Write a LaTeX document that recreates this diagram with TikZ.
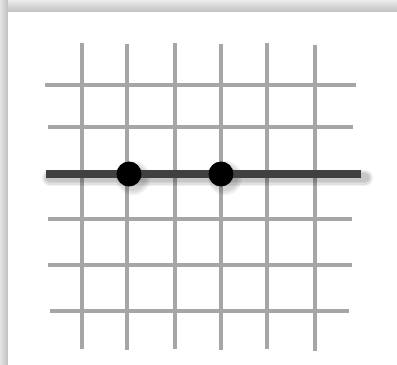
\documentclass[tikz,border=0pt]{standalone}
\usepackage{xcolor}
\usepackage{tikz}
\usetikzlibrary{positioning}

\definecolor{gridgray}{HTML}{A6A6A6}
\definecolor{linedark}{HTML}{404040}

\begin{document}
\begin{tikzpicture}[
    x=0.02cm, y=-0.02cm,
    gridline/.style={draw=gridgray, line width=0.07cm},
    mainline/.style={draw=linedark, line width=0.17cm},
    softshade/.style={black, opacity=0.06},
    dot/.style={circle, fill=black, inner sep=0pt, minimum size=0.5cm}
]
\useasboundingbox (0,0) rectangle (397,365);
% page frame
\shade[top color=gray!15, bottom color=gray!50] (0,0) rectangle (397,12);
\shade[left color=gray!20, right color=gray!50] (0,0) rectangle (8,365);
\fill[white] (8,12) rectangle (397,365);

% grid
\foreach \x/\top/\bot in {82/43/349, 127/44/350, 175/43/349, 221/44/350, 267/43/349, 315/45/351}
    \draw[gridline] (\x,\top) -- (\x,\bot);
\foreach \y/\left/\right in {85/45/356, 127/48/353, 219/48/352, 265/48/352, 311/50/349}
    \draw[gridline] (\left,\y) -- (\right,\y);

\coordinate (lstart) at (46,174);
\coordinate (lend) at (361,174);
% soft shadows
\foreach \w in {0.32,0.27,0.22,0.18}
    \draw[softshade, line width=\w cm, line cap=round] ([shift={(4,4)}]lstart) -- ([shift={(4,4)}]lend);
\foreach \px in {129,221}
    \foreach \r in {17,15,13}
        \fill[softshade] (\px+4,178) circle (\r);
\draw[mainline] (lstart) -- (lend);

\node[dot] (p1) at (129,174) {};
\node[dot] (p2) at (221,174) {};
\end{tikzpicture}
\end{document}
